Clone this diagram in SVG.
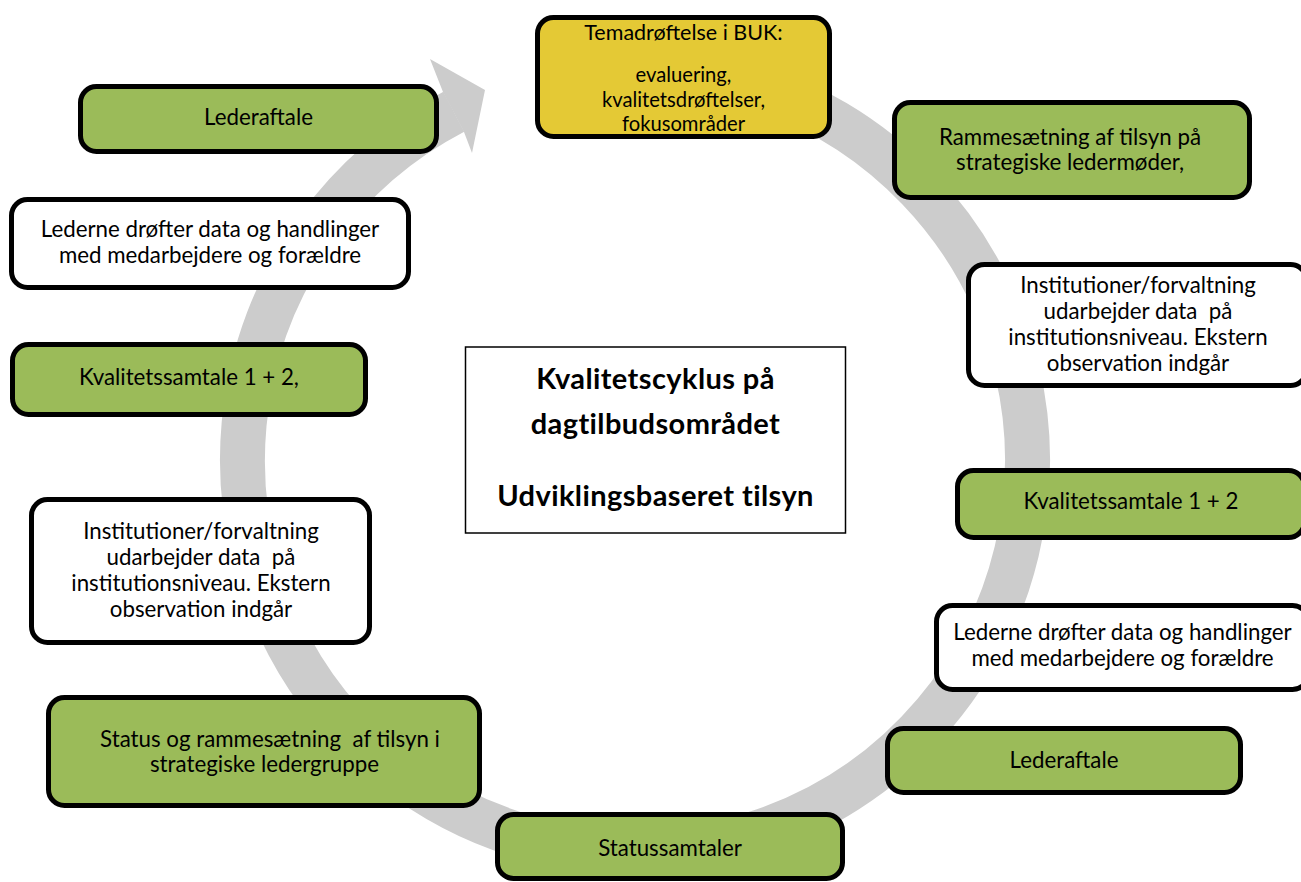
<svg xmlns="http://www.w3.org/2000/svg" width="1301" height="882" viewBox="0 0 1301 882">
<style>
.box{stroke:#000;stroke-width:5}
.g{fill:#9bbb59}
.w{fill:#fff}
.y{fill:#e4c935}
.t{font-family:Lato,"Liberation Sans",sans-serif;font-size:22.3px;fill:#000;text-anchor:middle}
.s{font-size:20.2px}
.b{font-family:Lato,"Liberation Sans",sans-serif;font-size:29px;font-weight:bold;letter-spacing:0.4px;fill:#000;text-anchor:middle}
</style>
<rect width="1301" height="882" fill="#fff"/>
<g id="connectors">
<path d="M 560.1 74.7 A 392.5 392.5 0 1 1 453.8 111.8" fill="none" stroke="#cccccc" stroke-width="45"/>
<polygon points="443,92 430,59 485,90 472,153 464,132" fill="#cccccc"/>
</g>
<g id="n-tema">
<rect class="box y" x="537.5" y="17.5" width="292" height="119" rx="16"/>
<text class="t s" x="683.5" y="40" style="font-size:21.5px">Temadrøftelse i BUK:</text>
<text class="t s" x="683.5" y="82">evaluering,</text>
<text class="t s" x="683.5" y="106.5">kvalitetsdrøftelser,</text>
<text class="t s" x="683.5" y="131">fokusområder</text>
</g>
<g id="n-ramme">
<rect class="box g" x="894.5" y="102.5" width="355" height="95" rx="16"/>
<text class="t" x="1070" y="145">Rammesætning af tilsyn på</text>
<text class="t" x="1070" y="170">strategiske ledermøder,</text>
</g>
<g id="n-inst-r">
<rect class="box w" x="968.5" y="264.5" width="338" height="121" rx="16"/>
<text class="t" x="1138" y="293">Institutioner/forvaltning</text>
<text class="t" x="1138" y="319" style="white-space:pre">udarbejder data  på</text>
<text class="t" x="1138" y="345">institutionsniveau. Ekstern</text>
<text class="t" x="1138" y="371">observation indgår</text>
</g>
<g id="n-kval-r">
<rect class="box g" x="957.5" y="470.5" width="347" height="67" rx="16"/>
<text class="t" x="1131" y="509">Kvalitetssamtale 1 + 2</text>
</g>
<g id="n-led-r">
<rect class="box w" x="936.5" y="605.5" width="372" height="84" rx="16"/>
<text class="t" x="1122.5" y="640">Lederne drøfter data og handlinger</text>
<text class="t" x="1122.5" y="666">med medarbejdere og forældre</text>
</g>
<g id="n-leder-r">
<rect class="box g" x="887.5" y="728.5" width="353" height="64" rx="16"/>
<text class="t" x="1064" y="768">Lederaftale</text>
</g>
<g id="n-status-s">
<rect class="box g" x="497.5" y="814.5" width="345" height="64" rx="16"/>
<text class="t" x="670" y="856">Statussamtaler</text>
</g>
<g id="n-status">
<rect class="box g" x="48.5" y="697.5" width="431" height="108" rx="16"/>
<text class="t" x="270" y="747" style="white-space:pre">Status og rammesætning  af tilsyn i</text>
<text class="t" x="264.5" y="772">strategiske ledergruppe</text>
</g>
<g id="n-inst-l">
<rect class="box w" x="31.5" y="499.5" width="338" height="143" rx="16"/>
<text class="t" x="201" y="539">Institutioner/forvaltning</text>
<text class="t" x="201" y="565" style="white-space:pre">udarbejder data  på</text>
<text class="t" x="201" y="591">institutionsniveau. Ekstern</text>
<text class="t" x="201" y="617">observation indgår</text>
</g>
<g id="n-kval-l">
<rect class="box g" x="12.5" y="344.5" width="353" height="70" rx="16"/>
<text class="t" x="189" y="385">Kvalitetssamtale 1 + 2,</text>
</g>
<g id="n-led-l">
<rect class="box w" x="11.5" y="199.5" width="397" height="88" rx="16"/>
<text class="t" x="210" y="237">Lederne drøfter data og handlinger</text>
<text class="t" x="210" y="263">med medarbejdere og forældre</text>
</g>
<g id="n-leder-l">
<rect class="box g" x="80.5" y="86.5" width="356" height="65" rx="16"/>
<text class="t" x="258.5" y="125">Lederaftale</text>
</g>
<g id="n-center">
<rect x="465.5" y="347" width="380" height="186" fill="#fff" stroke="#000" stroke-width="1.5"/>
<text class="b" x="655.5" y="389">Kvalitetscyklus på</text>
<text class="b" x="655.5" y="434">dagtilbudsområdet</text>
<text class="b" x="655.5" y="506">Udviklingsbaseret tilsyn</text>
</g>
</svg>
